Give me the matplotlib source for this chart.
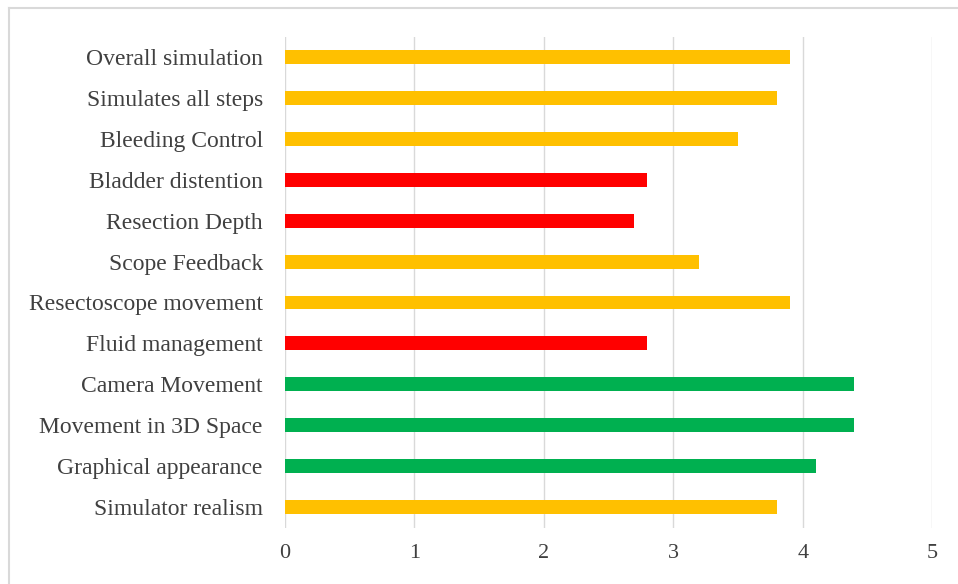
import matplotlib.pyplot as plt
from matplotlib.lines import Line2D

# categories listed top to bottom
categories = ['Overall simulation', 'Simulates all steps', 'Bleeding Control',
              'Bladder distention', 'Resection Depth', 'Scope Feedback',
              'Resectoscope movement', 'Fluid management', 'Camera Movement',
              'Movement in 3D Space', 'Graphical appearance', 'Simulator realism']
scores = [3.9, 3.8, 3.5, 2.8, 2.7, 3.2, 3.9, 2.8, 4.4, 4.4, 4.1, 3.8]
groups = ['mid', 'mid', 'mid', 'low', 'low', 'mid', 'mid', 'low',
          'high', 'high', 'high', 'mid']
group_colors = {'low': '#FF0000', 'mid': '#FFC000', 'high': '#00B050'}

plt.rcParams['font.family'] = ['Liberation Serif', 'DejaVu Serif']

fig = plt.figure(figsize=(9.58, 5.84), dpi=100)
ax = fig.add_axes([0.2975, 0.0967, 0.6755, 0.8408])

# light frame, only top and left edges show in the picture
fig.lines.append(Line2D([0.009, 1.0], [0.986, 0.986], transform=fig.transFigure,
                        color='#d9d9d9', linewidth=1.5))
fig.lines.append(Line2D([0.009, 0.009], [0.0, 0.986], transform=fig.transFigure,
                        color='#d9d9d9', linewidth=1.5))

y = list(range(len(categories)))[::-1]
colors = [group_colors[g] for g in groups]
ax.barh(y, scores, height=0.34, color=colors, zorder=3)

ax.set_xlim(0, 5)
ax.set_ylim(-0.5, len(categories) - 0.5)
ax.set_yticks(y)
ax.set_yticklabels(categories, fontsize=17, color='#404040')
ax.set_xticks(range(6))
ax.tick_params(axis='x', labelsize=16, labelcolor='#404040', length=0, pad=12)
ax.tick_params(axis='y', length=0, pad=16)

ax.grid(axis='x', color='#d9d9d9', linewidth=1, zorder=0)
for s in ax.spines.values():
    s.set_visible(False)

fig.savefig('out.png', dpi=100)
